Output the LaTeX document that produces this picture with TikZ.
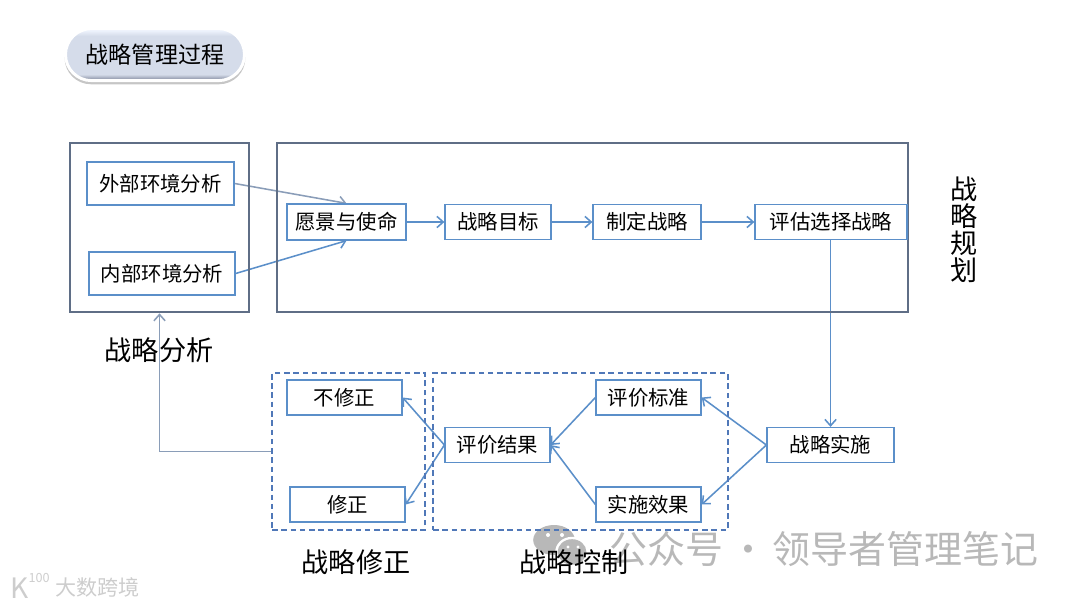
\documentclass[tikz,border=0pt]{standalone}
\usepackage{fontspec}
\setmainfont{Noto Sans CJK SC}
\usetikzlibrary{shapes.misc, shadows, arrows.meta}
\pgfdeclarelayer{edgelayer}
\pgfdeclarelayer{nodelayer}
\pgfsetlayers{edgelayer,nodelayer,main}
\definecolor{boxblue}{HTML}{5B8FC9}
\definecolor{framegray}{HTML}{5F6E86}
\definecolor{arrowgray}{HTML}{8A9DB8}
\definecolor{dashblue}{HTML}{5078B8}
\definecolor{markgray}{HTML}{B8B8B8}
\definecolor{pillfill}{HTML}{D5DCEA}
\definecolor{pilltop}{HTML}{EDF2FC}
\definecolor{pillbottom}{HTML}{989FB2}
\pgfdeclareverticalshading{pillshade}{100bp}{color(0bp)=(pillbottom); color(27bp)=(pillbottom); color(31bp)=(pillfill); color(68bp)=(pillfill); color(73bp)=(pilltop); color(100bp)=(pilltop)}
\tikzstyle{none}=[inner sep=0pt]
\tikzstyle{edge}=[draw=boxblue, line width=1.1pt, -{Straight Barb[length=4.5pt, width=8pt]}]
\tikzstyle{grayedge}=[draw=arrowgray, line width=1.1pt, -{Straight Barb[length=4.5pt, width=8pt]}]
\tikzstyle{textbox}=[draw=boxblue, line width=0.9pt, fill=white, inner sep=0pt, font=\fontsize{14.5}{17}\selectfont]
\tikzstyle{frame}=[draw=framegray, line width=1.9pt, inner sep=0pt]
\tikzstyle{dashframe}=[draw=dashblue, line width=1pt, dash pattern=on 4pt off 2.6pt, inner sep=0pt]
\tikzstyle{biglabel}=[inner sep=0pt, align=center, font=\fontsize{19.3}{19.2}\selectfont]
\begin{document}
\begin{tikzpicture}
	\useasboundingbox (0, 0) rectangle (27, 15.175);
	\begin{pgfonlayer}{nodelayer}
	\node [style=none, rounded rectangle, minimum width=4.475cm, minimum height=1.3cm, shading=pillshade, draw=white, line width=2.1pt, drop shadow={shadow xshift=0pt, shadow yshift=-2.4pt, shadow scale=1.01, opacity=0.45}, font=\fontsize{16.4}{19}\selectfont] (0) at (3.875, 13.81) {战略管理过程};
	\node [style=frame, minimum width=4.475cm, minimum height=4.225cm] (1) at (3.988, 9.4875) {};
	\node [style=frame, minimum width=15.775cm, minimum height=4.225cm] (2) at (14.813, 9.4875) {};
	\node [style=textbox, minimum width=3.675cm, minimum height=1.075cm] (3) at (4.013, 10.5875) {外部环境分析};
	\node [style=textbox, minimum width=3.65cm, minimum height=1.075cm] (4) at (4.05, 8.3375) {内部环境分析};
	\node [style=textbox, minimum width=2.975cm, minimum height=0.9cm] (5) at (8.663, 9.625) {愿景与使命};
	\node [style=textbox, minimum width=2.65cm, minimum height=0.875cm] (6) at (12.45, 9.625) {战略目标};
	\node [style=textbox, minimum width=2.7cm, minimum height=0.875cm] (7) at (16.175, 9.625) {制定战略};
	\node [style=textbox, minimum width=3.8cm, minimum height=0.875cm] (8) at (20.775, 9.625) {评估选择战略};
	\node [style=textbox, minimum width=3.175cm, minimum height=0.875cm] (9) at (20.763, 4.05) {战略实施};
	\node [style=textbox, minimum width=2.625cm, minimum height=0.875cm] (10) at (16.213, 5.2375) {评价标准};
	\node [style=textbox, minimum width=2.625cm, minimum height=0.875cm] (11) at (16.213, 2.5625) {实施效果};
	\node [style=textbox, minimum width=2.625cm, minimum height=0.875cm] (12) at (12.438, 4.05) {评价结果};
	\node [style=textbox, minimum width=2.875cm, minimum height=0.875cm] (13) at (8.613, 5.2375) {不修正};
	\node [style=textbox, minimum width=2.875cm, minimum height=0.875cm] (14) at (8.688, 2.5625) {修正};
	\node [style=dashframe, minimum width=3.825cm, minimum height=3.925cm] (15) at (8.713, 3.888) {};
	\node [style=dashframe, minimum width=7.375cm, minimum height=3.925cm] (16) at (14.513, 3.888) {};
	\node [style=biglabel] (17) at (3.975, 6.425) {战略分析};
	\node [style=biglabel] (18) at (8.9, 1.125) {战略修正};
	\node [style=biglabel] (19) at (14.35, 1.125) {战略控制};
	\node [style=biglabel] (20) at (24.1, 9.425) {战\\略\\规\\划};
	\end{pgfonlayer}
	\begin{pgfonlayer}{edgelayer}
	% watermarks
	\fill [markgray] (13.85, 1.675) ellipse (0.52 and 0.375);
	\fill [white] (14.3, 1.375) ellipse (0.42 and 0.38);
	\fill [markgray] (14.3, 1.375) ellipse (0.36 and 0.32);
	\fill [white] (13.7, 1.8) circle (0.05) (14.05, 1.8) circle (0.05) (14.2, 1.5) circle (0.04) (14.45, 1.5) circle (0.04);
	\node [style=none, text=markgray, font=\fontsize{27}{30}\selectfont] (21) at (20.6, 1.45) {\spaceskip=4pt\relax 公众号 · 领导者管理笔记};
	\node [style=none, text=markgray!70, font=\fontsize{15}{17}\selectfont] (22) at (2.44, 0.5) {大数跨境};
	\node [style=none, text=markgray!70, font=\fontsize{20}{22}\selectfont] (23) at (0.5, 0.48) {K};
	\node [style=none, text=markgray!70, font=\fontsize{9}{10}\selectfont] (24) at (0.98, 0.72) {100};
	\draw [style=grayedge] (3.east) to (5.north);
	\draw [style=edge] (4.east) to (5.south);
	\draw [style=edge] (5) to (6);
	\draw [style=edge] (6) to (7);
	\draw [style=edge] (7) to (8);
	\draw [style=edge] (8.south -| 9.north) to (9.north);
	\draw [style=edge] (9.west) to (10.east);
	\draw [style=edge] (9.west) to (11.east);
	\draw [style=edge] (10.west) to (12.east);
	\draw [style=edge] (11.west) to (12.east);
	\draw [style=edge] (12.west) to (13.east);
	\draw [style=edge] (12.west) to (14.east);
	\draw [style=grayedge] (15.west) -| (1.south);
	\end{pgfonlayer}
\end{tikzpicture}
\end{document}
